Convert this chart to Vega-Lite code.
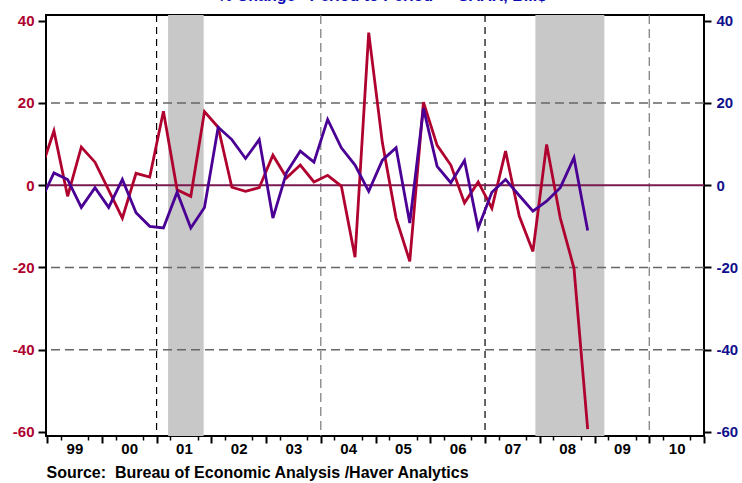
{
  "$schema": "https://vega.github.io/schema/vega-lite/v6.json",
  "width": 658,
  "height": 421,
  "autosize": {"type": "none"},
  "padding": {"left": 46, "top": 15, "right": 38, "bottom": 47},
  "background": "white",
  "config": {"view": {"stroke": "black", "strokeWidth": 2}, "font": "Liberation Sans"},
  "title": {"text": "% Change - Period to Period \u2014 SAAR, Bil.$", "color": "#0A0AB4", "fontSize": 16, "fontWeight": "bold", "font": "Liberation Sans", "anchor": "middle", "offset": -3, "dx": 7, "baseline": "alphabetic"},
  "datasets": {
    "series": [
      {"date": 1998.875, "series": "A", "value": 3.2},
      {"date": 1999.125, "series": "A", "value": 13.2},
      {"date": 1999.375, "series": "A", "value": -2.7},
      {"date": 1999.625, "series": "A", "value": 9.3},
      {"date": 1999.875, "series": "A", "value": 5.6},
      {"date": 2000.125, "series": "A", "value": -1.2},
      {"date": 2000.375, "series": "A", "value": -8.0},
      {"date": 2000.625, "series": "A", "value": 2.9},
      {"date": 2000.875, "series": "A", "value": 2.0},
      {"date": 2001.125, "series": "A", "value": 18.0},
      {"date": 2001.375, "series": "A", "value": -1.1},
      {"date": 2001.625, "series": "A", "value": -2.7},
      {"date": 2001.875, "series": "A", "value": 17.9},
      {"date": 2002.125, "series": "A", "value": 14.1},
      {"date": 2002.375, "series": "A", "value": -0.5},
      {"date": 2002.625, "series": "A", "value": -1.5},
      {"date": 2002.875, "series": "A", "value": -0.6},
      {"date": 2003.125, "series": "A", "value": 7.3},
      {"date": 2003.375, "series": "A", "value": 1.8},
      {"date": 2003.625, "series": "A", "value": 4.9},
      {"date": 2003.875, "series": "A", "value": 0.8},
      {"date": 2004.125, "series": "A", "value": 2.4},
      {"date": 2004.375, "series": "A", "value": -0.2},
      {"date": 2004.625, "series": "A", "value": -17.5},
      {"date": 2004.875, "series": "A", "value": 37.1},
      {"date": 2005.125, "series": "A", "value": 10.3},
      {"date": 2005.375, "series": "A", "value": -8.0},
      {"date": 2005.625, "series": "A", "value": -18.5},
      {"date": 2005.875, "series": "A", "value": 20.2},
      {"date": 2006.125, "series": "A", "value": 9.7},
      {"date": 2006.375, "series": "A", "value": 4.9},
      {"date": 2006.625, "series": "A", "value": -4.3},
      {"date": 2006.875, "series": "A", "value": 0.8},
      {"date": 2007.125, "series": "A", "value": -5.6},
      {"date": 2007.375, "series": "A", "value": 8.3},
      {"date": 2007.625, "series": "A", "value": -7.5},
      {"date": 2007.875, "series": "A", "value": -16.1},
      {"date": 2008.125, "series": "A", "value": 9.9},
      {"date": 2008.375, "series": "A", "value": -8.0},
      {"date": 2008.625, "series": "A", "value": -20.2},
      {"date": 2008.875, "series": "A", "value": -59.3},
      {"date": 1998.875, "series": "B", "value": -4.1},
      {"date": 1999.125, "series": "B", "value": 3.0},
      {"date": 1999.375, "series": "B", "value": 1.4},
      {"date": 1999.625, "series": "B", "value": -5.4},
      {"date": 1999.875, "series": "B", "value": -0.6},
      {"date": 2000.125, "series": "B", "value": -5.4},
      {"date": 2000.375, "series": "B", "value": 1.4},
      {"date": 2000.625, "series": "B", "value": -6.7},
      {"date": 2000.875, "series": "B", "value": -10.0},
      {"date": 2001.125, "series": "B", "value": -10.4},
      {"date": 2001.375, "series": "B", "value": -1.7},
      {"date": 2001.625, "series": "B", "value": -10.4},
      {"date": 2001.875, "series": "B", "value": -5.4},
      {"date": 2002.125, "series": "B", "value": 14.1},
      {"date": 2002.375, "series": "B", "value": 11.1},
      {"date": 2002.625, "series": "B", "value": 6.5},
      {"date": 2002.875, "series": "B", "value": 11.1},
      {"date": 2003.125, "series": "B", "value": -8.0},
      {"date": 2003.375, "series": "B", "value": 3.1},
      {"date": 2003.625, "series": "B", "value": 8.3},
      {"date": 2003.875, "series": "B", "value": 5.6},
      {"date": 2004.125, "series": "B", "value": 16.0},
      {"date": 2004.375, "series": "B", "value": 9.1},
      {"date": 2004.625, "series": "B", "value": 4.9},
      {"date": 2004.875, "series": "B", "value": -1.5},
      {"date": 2005.125, "series": "B", "value": 6.1},
      {"date": 2005.375, "series": "B", "value": 9.1},
      {"date": 2005.625, "series": "B", "value": -9.2},
      {"date": 2005.875, "series": "B", "value": 18.7},
      {"date": 2006.125, "series": "B", "value": 4.6},
      {"date": 2006.375, "series": "B", "value": 0.6},
      {"date": 2006.625, "series": "B", "value": 6.0},
      {"date": 2006.875, "series": "B", "value": -10.4},
      {"date": 2007.125, "series": "B", "value": -1.7},
      {"date": 2007.375, "series": "B", "value": 1.4},
      {"date": 2007.625, "series": "B", "value": -2.5},
      {"date": 2007.875, "series": "B", "value": -6.3},
      {"date": 2008.125, "series": "B", "value": -3.9},
      {"date": 2008.375, "series": "B", "value": -0.6},
      {"date": 2008.625, "series": "B", "value": 6.7},
      {"date": 2008.875, "series": "B", "value": -11.0}
    ]
  },
  "layer": [
    {
      "data": {"values": [{"start": 2001.21, "end": 2001.86}, {"start": 2007.92, "end": 2009.18}]},
      "mark": {"type": "rect", "color": "#C8C8C8"},
      "encoding": {
        "x": {
          "field": "start", "type": "quantitative",
          "scale": {"domain": [1998.98, 2011], "nice": false, "zero": false},
          "axis": {
            "orient": "bottom",
            "values": [1999, 1999.25, 1999.5, 1999.75, 2000, 2000.25, 2000.5, 2000.75, 2001, 2001.25, 2001.5, 2001.75, 2002, 2002.25, 2002.5, 2002.75, 2003, 2003.25, 2003.5, 2003.75, 2004, 2004.25, 2004.5, 2004.75, 2005, 2005.25, 2005.5, 2005.75, 2006, 2006.25, 2006.5, 2006.75, 2007, 2007.25, 2007.5, 2007.75, 2008, 2008.25, 2008.5, 2008.75, 2009, 2009.25, 2009.5, 2009.75, 2010, 2010.25, 2010.5, 2010.75, 2011],
            "labelExpr": "(datum.value*4)%4 == 2 ? format(floor(datum.value)%100, '02d') : ''",
            "tickSize": {"condition": {"test": "(datum.value*4)%4 == 0", "value": 7}, "value": 4},
            "tickOpacity": {"condition": {"test": "(datum.value*4)%4 == 2", "value": 0}, "value": 1},
            "tickWidth": {"condition": {"test": "(datum.value*4)%4 == 0", "value": 2}, "value": 1.5},
            "tickColor": "black",
            "domain": false,
            "grid": false,
            "labelFont": "Liberation Sans",
            "labelFontSize": 15,
            "labelFontWeight": "bold",
            "labelColor": "black",
            "labelPadding": 1,
            "labelOverlap": false,
            "labelFlush": false,
            "labelBound": false,
            "title": "Source:\u00a0 Bureau of Economic Analysis /Haver Analytics",
            "titleAnchor": "start",
            "titleAlign": "left",
            "titleFont": "Liberation Sans",
            "titleFontSize": 16,
            "titleFontWeight": "bold",
            "titleColor": "black",
            "titlePadding": 5
          }
        },
        "x2": {"field": "end"}
      }
    },
    {
      "data": {"values": [{"v": 20}, {"v": -20}, {"v": -40}]},
      "mark": {"type": "rule", "color": "#666666", "strokeDash": [9, 5], "strokeWidth": 1.5},
      "encoding": {
        "y": {"field": "v", "type": "quantitative", "scale": {"domain": [-61, 41.4], "nice": false, "zero": false}, "axis": null}
      }
    },
    {
      "data": {"values": [{"year": 2001}, {"year": 2007}]},
      "mark": {"type": "rule", "color": "black", "strokeDash": [7, 5], "strokeWidth": 1.2},
      "encoding": {
        "x": {"field": "year", "type": "quantitative", "axis": null}
      }
    },
    {
      "data": {"values": [{"year": 2004}, {"year": 2010}]},
      "mark": {"type": "rule", "color": "#777777", "strokeDash": [9, 5], "strokeWidth": 1.2},
      "encoding": {
        "x": {"field": "year", "type": "quantitative", "axis": null}
      }
    },
    {
      "data": {"values": [{"v": 0}]},
      "mark": {"type": "rule", "color": "#7A1A50", "strokeWidth": 2},
      "encoding": {
        "y": {"field": "v", "type": "quantitative", "axis": null}
      }
    },
    {
      "data": {"name": "series"},
      "transform": [{"filter": "datum.series == 'A'"}],
      "mark": {"type": "line", "color": "#B0022F", "strokeWidth": 2.8, "clip": true},
      "encoding": {
        "x": {"field": "date", "type": "quantitative", "axis": null},
        "y": {
          "field": "value", "type": "quantitative",
          "scale": {"domain": [-61, 41.4], "nice": false, "zero": false},
          "axis": {
            "orient": "left",
            "values": [-60, -40, -20, 0, 20, 40],
            "labelExpr": "datum.value < 0 ? '-' + abs(datum.value) : '' + datum.value",
            "title": null,
            "domain": false,
            "grid": false,
            "tickColor": "black",
            "tickSize": 8,
            "tickWidth": 2,
            "labelPadding": 4,
            "labelColor": "#B0022F",
            "labelFont": "Liberation Sans",
            "labelFontSize": 15,
            "labelFontWeight": "bold"
          }
        }
      }
    },
    {
      "data": {"name": "series"},
      "transform": [{"filter": "datum.series == 'B'"}],
      "mark": {"type": "line", "color": "#4A0094", "strokeWidth": 2.8, "clip": true},
      "encoding": {
        "x": {"field": "date", "type": "quantitative", "axis": null},
        "y": {
          "field": "value", "type": "quantitative",
          "axis": {
            "orient": "right",
            "values": [-60, -40, -20, 0, 20, 40],
            "labelExpr": "datum.value < 0 ? '-' + abs(datum.value) : '' + datum.value",
            "title": null,
            "domain": false,
            "grid": false,
            "tickColor": "black",
            "tickSize": 7,
            "tickWidth": 2,
            "labelPadding": 5,
            "labelColor": "#10108C",
            "labelFont": "Liberation Sans",
            "labelFontSize": 15,
            "labelFontWeight": "bold"
          }
        }
      }
    }
  ],
  "resolve": {"axis": {"x": "independent", "y": "independent"}}
}
